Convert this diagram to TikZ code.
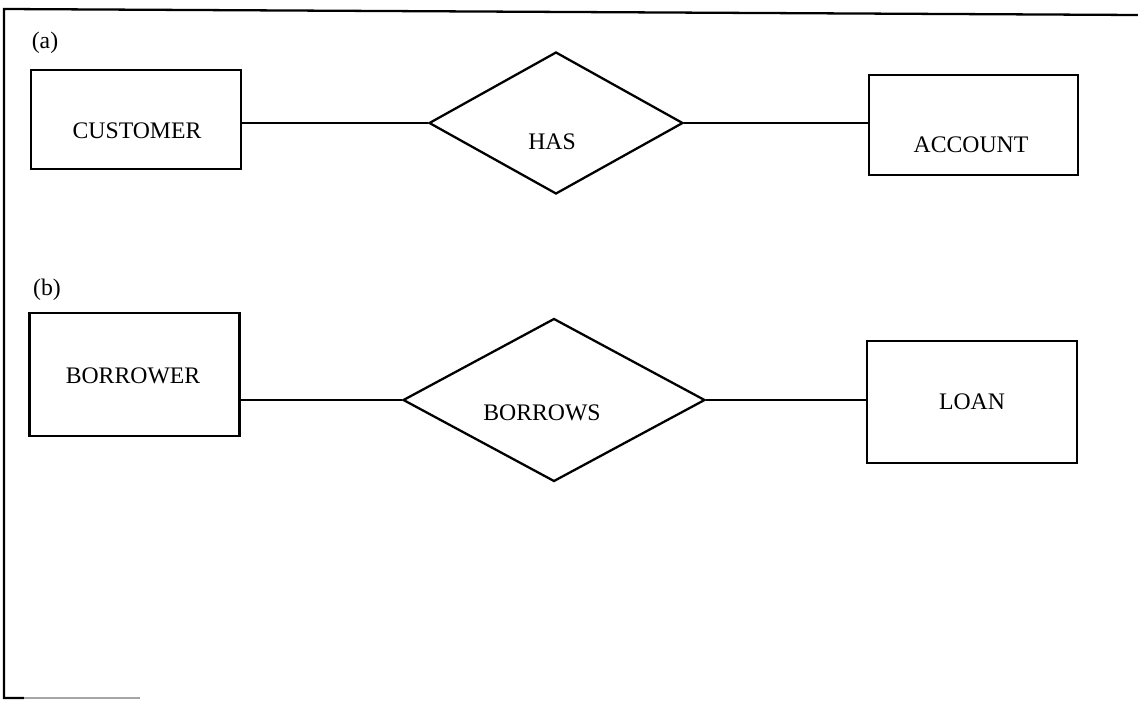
\documentclass[tikz,border=0pt]{standalone}
\usepackage{fontspec}
\setmainfont{Liberation Serif}
\usetikzlibrary{shapes.geometric}
\usetikzlibrary{calc}

\begin{document}
\begin{tikzpicture}[x=0.02cm, y=-0.02cm]
    \colorlet{border}{black}
\colorlet{scanline}{black!35}

\newcommand\boxwidth{4.2cm}
\newcommand\strokewd{1.3pt}

\tikzset{
    er text/.style={font=\fontsize{13.5}{16}\selectfont, inner sep=0pt},
    outline/.style={draw=border, line width=\strokewd},
    entity/.style={
        outline, rectangle,
        minimum width=\boxwidth,
        inner sep=0pt,
    },
    relation/.style={
        outline, diamond,
        inner sep=0pt,
    },
    link/.style={border, line width=\strokewd},
}

\useasboundingbox (0, 0) rectangle (1138, 700);

\draw[link] (1138, 15) -- (4, 9) -- (4, 698) -- (24, 698);
\draw[scanline, line width=\strokewd] (24, 698) -- (140, 698);

\begin{scope}
    \node[er text] at (45, 43) (label-a) {(a)};

    \node[entity, minimum height=1.98cm] at (136, 119.5) (customer) {};
    \node[er text] at (137, 131) (customer-text) {CUSTOMER};

    \node[relation, minimum width=5.08cm, minimum height=2.84cm]
        at (556, 123) (has) {};
    \node[er text] at (552, 142) (has-text) {HAS};

    \node[entity, minimum width=4.18cm, minimum height=2cm]
        at (973.5, 125) (account) {};
    \node[er text] at (971, 145) (account-text) {ACCOUNT};

    \draw[link] (customer.east |- has.west) -- (has.west);
    \draw[link] (has.east) -- (has.east -| account.west);
\end{scope}

\begin{scope}
    \node[er text] at (47, 290) (label-b) {(b)};

    \node[entity, minimum height=2.46cm] at (134.5, 374.5) (borrower) {};
    \node[er text] at (133, 376) (borrower-text) {BORROWER};

    \node[relation, minimum width=6.04cm, minimum height=3.26cm]
        at (554, 400) (borrows) {};
    \node[er text] at (542, 413) (borrows-text) {BORROWS};

    \node[entity, minimum height=2.44cm] at (972, 402) (loan) {};
    \node[er text] at (972, 402) (loan-text) {LOAN};

    \draw[link] (borrower.east |- borrows.west) -- (borrows.west);
    \draw[link] (borrows.east) -- (borrows.east -| loan.west);
\end{scope}
\end{tikzpicture}
\end{document}
